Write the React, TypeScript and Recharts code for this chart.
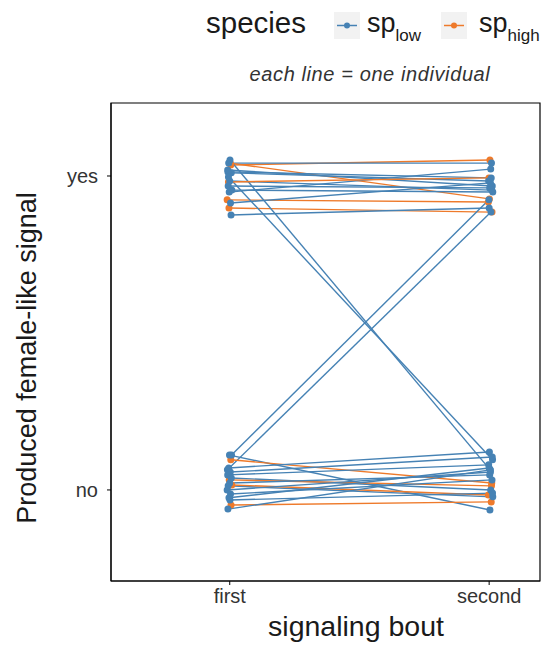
import { ScatterChart, Scatter, XAxis, YAxis, ReferenceArea } from 'recharts'

// categories
const bouts = ['first', 'second']
const answers = ['no', 'yes']

// one entry per individual (0 = no, 1 = yes, with jitter as plotted)
const species = [
  'high', 'low', 'high', 'low', 'low', 'low', 'low', 'low', 'low', 'high',
  'low', 'high', 'low', 'low', 'low', 'low', 'low', 'low', 'low', 'high',
  'low', 'low', 'low', 'low', 'high', 'low', 'low', 'high', 'low', 'low',
  'low', 'high', 'low', 'low', 'high',
]
const firstY = [
  1.035, 1.041, 1.041, 1.019, 1.010, 0.949, 0.984, 0.968, 0.955, 0.924,
  0.914, 0.898, 0.876, 1.013, 1.051, 0.997, 0.111, 0.064, 0.111, 0.096,
  0.070, 0.057, 0.048, 0.038, 0.032, 0.022, 0.013, 0.016, 0.000, -0.013,
  -0.025, -0.048, -0.061, -0.032, 0.981,
]
const secondY = [
  1.051, 1.041, 0.927, 0.968, 0.984, 1.022, 0.955, 0.962, 0.949, 0.917,
  0.978, 0.885, 0.898, 0.994, 0.064, 0.096, 0.924, 0.885, -0.064, 0.022,
  0.121, 0.105, 0.080, 0.000, 0.013, 0.048, -0.022, -0.016, 0.057, 0.032,
  0.070, -0.038, 0.064, -0.010, 0.994,
]
const firstX = [
  1.004, 0.996, 1.002, 0.992, 1.006, 0.998, 1.000, 0.994, 1.008, 0.990,
  1.003, 0.997, 1.005, 0.993, 1.001, 0.995, 1.007, 0.991, 0.999, 1.004,
  0.996, 1.002, 0.992, 1.006, 0.998, 1.000, 0.994, 1.008, 0.990, 1.003,
  0.997, 1.005, 0.993, 1.001, 0.995,
]
const secondX = [
  2.003, 2.009, 2.001, 2.012, 1.998, 2.006, 2.010, 2.002, 2.014, 1.997,
  2.005, 2.011, 2.000, 2.008, 2.004, 2.013, 1.999, 2.007, 2.003, 2.010,
  2.001, 2.012, 1.998, 2.006, 2.009, 2.002, 2.014, 1.997, 2.005, 2.011,
  2.000, 2.008, 2.004, 2.013, 1.999,
]

const COLORS: Record<string, string> = { low: '#4682B4', high: '#EE7A2B' }
const X_DOMAIN = [0.5423, 2.196]
const Y_DOMAIN = [-0.29, 1.2325]
const FONT = '"Liberation Sans", Arial, Helvetica, sans-serif'

const individuals = species.map((sp, i) => ({
  sp,
  points: [
    { x: firstX[i], y: firstY[i] },
    { x: secondX[i], y: secondY[i] },
  ],
}))

const pointsOf = (sp: string) =>
  individuals.filter(d => d.sp === sp).flatMap(d => d.points)

const noShape = () => <g />

const dot = (color: string) => (props: any) => (
  <circle cx={props.cx} cy={props.cy} r={3.5} fill={color} />
)

export default function App() {
  return (
    <div style={{ position: 'absolute', left: 0, top: 0, width: 544, height: 646, background: '#fff', fontFamily: FONT }}>
      <ScatterChart width={544} height={646} margin={{ top: 103, right: 4, bottom: 25, left: 51 }}>
        <XAxis
          type="number"
          dataKey="x"
          domain={X_DOMAIN}
          ticks={[1, 2]}
          tickFormatter={(v: number) => bouts[Math.round(v) - 1]}
          allowDataOverflow
          height={40}
          tickSize={4}
          tickMargin={4}
          stroke="#000"
          tick={{ fill: '#333', fontSize: 20, fontFamily: FONT }}
        />
        <YAxis
          type="number"
          dataKey="y"
          domain={Y_DOMAIN}
          ticks={[0, 1]}
          tickFormatter={(v: number) => answers[Math.round(v)]}
          allowDataOverflow
          width={60}
          tickSize={4}
          tickMargin={9}
          stroke="#000"
          tick={{ fill: '#333', fontSize: 20, fontFamily: FONT }}
        />
        <ReferenceArea
          x1={X_DOMAIN[0]}
          x2={X_DOMAIN[1]}
          y1={Y_DOMAIN[0]}
          y2={Y_DOMAIN[1]}
          fill="none"
          stroke="#000"
          strokeWidth={1.2}
          ifOverflow="extendDomain"
        />
        {individuals.map((d, i) => (
          <Scatter
            key={`line-${i}`}
            data={d.points}
            line={{ stroke: COLORS[d.sp], strokeWidth: 1.4 }}
            shape={noShape}
            isAnimationActive={false}
          />
        ))}
        <Scatter data={pointsOf('high')} shape={dot(COLORS.high)} isAnimationActive={false} />
        <Scatter data={pointsOf('low')} shape={dot(COLORS.low)} isAnimationActive={false} />
      </ScatterChart>

      {/* titles and legend */}
      <svg width={544} height={646} style={{ position: 'absolute', left: 0, top: 0, pointerEvents: 'none' }}>
        <text x={356} y={636} textAnchor="middle" fontSize={28.5} fill="#1a1a1a" fontFamily={FONT}>signaling bout</text>
        <text
          x={0}
          y={0}
          transform="translate(36,358) rotate(-90)"
          textAnchor="middle"
          fontSize={27}
          fill="#1a1a1a"
          fontFamily={FONT}
        >
          Produced female-like signal
        </text>
        <text
          x={370}
          y={81}
          textAnchor="middle"
          fontSize={20}
          letterSpacing={0.6}
          fontStyle="italic"
          fill="#333"
          fontFamily={FONT}
        >
          each line = one individual
        </text>

        <text x={206} y={33} fontSize={29.5} fill="#1a1a1a" fontFamily={FONT}>species</text>

        <rect x={334} y={12} width={26} height={27} fill="#F2F2F2" />
        <line x1={337} x2={357} y1={25.5} y2={25.5} stroke={COLORS.low} strokeWidth={1.5} />
        <circle cx={347} cy={25.5} r={3} fill={COLORS.low} />
        <text x={367} y={32} fontSize={27} fill="#1a1a1a" fontFamily={FONT}>
          sp<tspan fontSize={17} dy={9}>low</tspan>
        </text>

        <rect x={441} y={12} width={26} height={27} fill="#F2F2F2" />
        <line x1={444} x2={464} y1={25.5} y2={25.5} stroke={COLORS.high} strokeWidth={1.5} />
        <circle cx={454} cy={25.5} r={3} fill={COLORS.high} />
        <text x={479} y={32} fontSize={27} fill="#1a1a1a" fontFamily={FONT}>
          sp<tspan fontSize={17} dy={9}>high</tspan>
        </text>
      </svg>
    </div>
  )
}
